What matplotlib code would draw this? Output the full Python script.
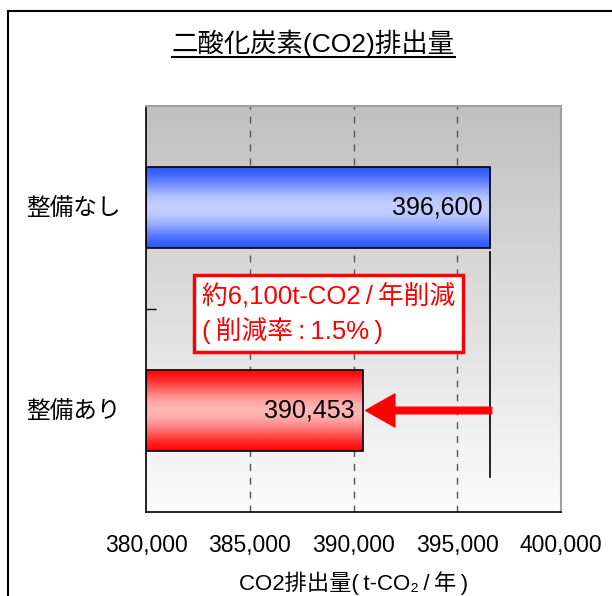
import numpy as np
import matplotlib.pyplot as plt
from matplotlib.colors import LinearSegmentedColormap
from matplotlib.lines import Line2D

plt.rcParams['font.family'] = ['Liberation Sans', 'Noto Sans CJK JP', 'DejaVu Sans']

# data
categories = ['整備なし', '整備あり']
emissions = [396600, 390453]
xticks = [380000, 385000, 390000, 395000, 400000]
note = '約6,100t-CO2\u2009/\u2009年削減\n(\u2009削減率\u2009:\u20091.5%\u2009)'

fig = plt.figure(figsize=(6.12, 5.96), dpi=100)
ax = fig.add_axes([146 / 612, 1 - 512 / 596, 415 / 612, 406 / 596])

x0, x1 = xticks[0], xticks[-1]

# grey background fading to white
bg = LinearSegmentedColormap.from_list('bg', ['#fcfcfc', '#c0c0c0'])
ax.imshow(np.linspace(0, 1, 256).reshape(-1, 1), cmap=bg, aspect='auto',
          extent=(0, 1, 0, 1), transform=ax.transAxes, origin='lower', zorder=0)

# dashed grid
for xv in xticks[1:-1]:
    ax.axvline(xv, color='#555555', lw=1, dashes=(5, 5), zorder=1)

# gradient bars
s = np.linspace(0, 1, 200)
profile = np.sin(np.pi * s) ** 1.6
cmaps = [LinearSegmentedColormap.from_list('b', ['#2f58ff', '#c3cfff']),
         LinearSegmentedColormap.from_list('r', ['#ff0a0a', '#ffb4b4'])]
h = 0.395
for i, (val, cm) in enumerate(zip(emissions, cmaps)):
    ax.imshow(profile.reshape(-1, 1), cmap=cm, vmin=0, vmax=1, aspect='auto',
              extent=(x0, val, i + h / 2, i - h / 2), zorder=2)
    ax.barh(i, val - x0, left=x0, height=h, fill=False, edgecolor='black',
            lw=1.2, zorder=3)
    ax.annotate(f'{val:,}', xy=(val, i), xytext=(-6, 0), textcoords='offset points',
                ha='right', va='center', fontsize=18, zorder=4)

ax.set_xlim(x0, x1)
ax.set_ylim(1.5, -0.5)

# reduction marker
ax.plot([emissions[0], emissions[0]], [0.22, 1.33], color='black', lw=1.2, zorder=3)
ax.annotate('', xy=(emissions[1], 1), xytext=(emissions[0] + 60, 1),
            arrowprops=dict(arrowstyle='simple,head_length=0.75,head_width=0.85,tail_width=0.17',
                            color='#ff0000', mutation_scale=28, shrinkA=0, shrinkB=2),
            zorder=4)
ax.text(382700, 0.522, note, color='#ff0000', fontsize=18.5, ha='left', va='center',
        linespacing=1.35, zorder=5,
        bbox=dict(boxstyle='square,pad=0.32', fc='white', ec='#ff0000', lw=2.5))

# axes styling
ax.set_xticks(xticks)
ax.set_xticklabels([f'{v:,}' for v in xticks], fontsize=16.5)
ax.tick_params(axis='x', length=0, pad=16)
ax.set_yticks([0, 1])
ax.set_yticklabels(categories, fontsize=17)
ax.tick_params(axis='y', which='major', length=0, pad=18)
ax.set_yticks([0.5], minor=True)
ax.tick_params(axis='y', which='minor', direction='in', length=7, width=1)
ax.set_xlabel('CO2排出量(\u2009t-CO₂\u2009/\u2009年\u2009)', fontsize=16, labelpad=10)

for side in ['left', 'bottom']:
    ax.spines[side].set_color('black')
    ax.spines[side].set_linewidth(1.2)
for side in ['top', 'right']:
    ax.spines[side].set_color('#a0a0a0')
    ax.spines[side].set_linewidth(1.5)

# outer frame (left and top edges)
fig.add_artist(Line2D([8 / 612, 8 / 612], [0, 1 - 11 / 596], color='black', lw=1.5))
fig.add_artist(Line2D([8 / 612, 1], [1 - 11 / 596, 1 - 11 / 596], color='black', lw=1.5))

# underlined title
title = fig.text(313 / 612, 1 - 43 / 596, '二酸化炭素(CO2)排出量', fontsize=19,
                 ha='center', va='center')
fig.canvas.draw()
bb = title.get_window_extent().transformed(fig.transFigure.inverted())
fig.add_artist(Line2D([bb.x0, bb.x1], [1 - 57 / 596] * 2, color='black', lw=1.5))

fig.savefig('out.png', dpi=100)
